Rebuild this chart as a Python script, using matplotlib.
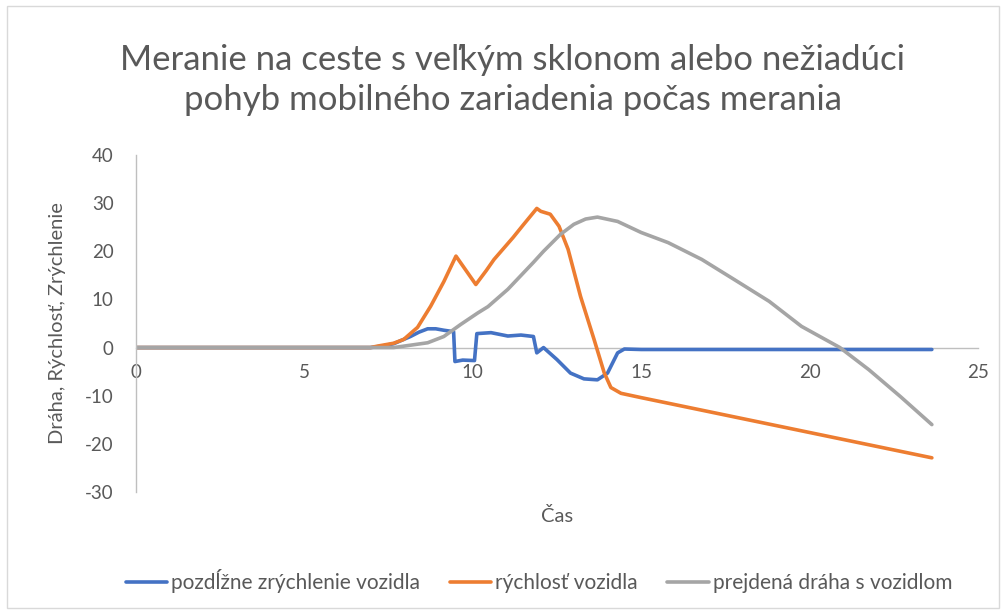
import numpy as np
import matplotlib
matplotlib.use("Agg")
import matplotlib.pyplot as plt
from matplotlib.patches import Rectangle

plt.rcParams['font.family'] = ['Lato', 'DejaVu Sans']
plt.rcParams['axes.unicode_minus'] = False

# pozdĺžne zrýchlenie vozidla (acceleration)
t_acc = [0, 6.96, 7.3, 7.65, 8.15, 8.4, 8.66, 8.9, 9.14, 9.43, 9.47, 9.7, 10.05, 10.12, 10.54, 11.04,
         11.43, 11.8, 11.9, 12.1, 12.5, 12.9, 13.3, 13.7, 14.0, 14.3, 14.5, 15.0, 23.63]
acc = [0, 0, 0.3, 0.8, 2.3, 3.2, 3.9, 3.9, 3.6, 3.3, -2.9, -2.6, -2.7, 2.9, 3.1, 2.4,
       2.6, 2.3, -1.1, 0.0, -2.5, -5.3, -6.5, -6.7, -5.3, -1.1, -0.3, -0.4, -0.4]

# rýchlosť vozidla (speed)
t_spd = [0, 6.96, 7.17, 7.65, 7.95, 8.36, 8.75, 9.14, 9.5, 10.09, 10.4, 10.63, 11.2, 11.5, 11.9,
         12.02, 12.3, 12.56, 12.83, 13.2, 13.6, 13.9, 14.1, 14.4, 15.0, 23.63]
spd = [0, 0, 0.3, 0.9, 1.7, 4.2, 8.6, 13.7, 19.0, 13.1, 16.0, 18.3, 22.9, 25.5, 28.9,
       28.3, 27.7, 25.2, 20.4, 10.6, 1.7, -5.2, -8.3, -9.5, -10.4, -22.9]

# prejdená dráha s vozidlom (distance)
t_dst = [0, 7.65, 8.66, 9.14, 9.64, 10.15, 10.45, 11.04, 11.8, 12.1, 12.6, 13.0, 13.35, 13.7, 14.3, 15.0,
         15.8, 16.8, 17.77, 18.8, 19.76, 20.9, 21.76, 22.7, 23.63]
dst = [0, 0, 1.0, 2.3, 4.8, 7.2, 8.5, 12.1, 17.7, 20.0, 23.5, 25.6, 26.7, 27.1, 26.2, 23.9,
       21.8, 18.3, 14.1, 9.6, 4.4, 0.0, -4.6, -10.2, -16.0]

W, H = 1006, 614
fig = plt.figure(figsize=(W / 100, H / 100), dpi=100)
ax = fig.add_axes([136 / W, (H - 492) / H, (978 - 136) / W, (492 - 155) / H])

kw = dict(lw=2.6, solid_joinstyle='round', solid_capstyle='round')
ax.plot(t_acc, acc, color='#4472C4', label='pozdĺžne zrýchlenie vozidla', **kw)
ax.plot(t_spd, spd, color='#ED7D31', label='rýchlosť vozidla', **kw)
ax.plot(t_dst, dst, color='#A5A5A5', label='prejdená dráha s vozidlom', **kw)

ax.set_xlim(0, 25)
ax.set_ylim(-30, 40)
ax.set_xticks(range(0, 26, 5))
ax.set_yticks(range(-30, 41, 10))
ax.spines['top'].set_visible(False)
ax.spines['right'].set_visible(False)
ax.spines['bottom'].set_position(('data', 0))
for s in ('left', 'bottom'):
    ax.spines[s].set_color('#BFBFBF')
    ax.spines[s].set_linewidth(1.0)
ax.spines['bottom'].set_zorder(0)
ax.tick_params(length=0, labelsize=13.5, colors='#595959')
ax.tick_params(axis='y', pad=16)
ax.tick_params(axis='x', pad=12)
ax.patch.set_alpha(0)

fig.text(58 / W, 1 - 323 / H, 'Dráha, Rýchlosť, Zrýchlenie', fontsize=14.5, color='#595959',
         rotation=90, ha='center', va='center')
fig.text((136 + 978) / 2 / W, 1 - 516 / H, 'Čas', fontsize=14.5, color='#595959',
         ha='center', va='center')

fig.text(513 / W, 1 - 80 / H, 'Meranie na ceste s veľkým sklonom alebo nežiadúci\npohyb mobilného zariadenia počas merania',
         fontsize=25, color='#595959', ha='center', va='center', linespacing=1.3)

fig.legend(loc='center', bbox_to_anchor=(539 / W, 1 - 581 / H), ncol=3, frameon=False,
           fontsize=15, handlelength=2.0, handletextpad=0.2, columnspacing=1.4,
           labelcolor='#595959')

fig.add_artist(Rectangle((7 / W, 6 / H), (W - 14) / W, (H - 12) / H, transform=fig.transFigure,
                         fill=False, edgecolor='#D9D9D9', lw=1))

fig.savefig('out.png', dpi=100)
